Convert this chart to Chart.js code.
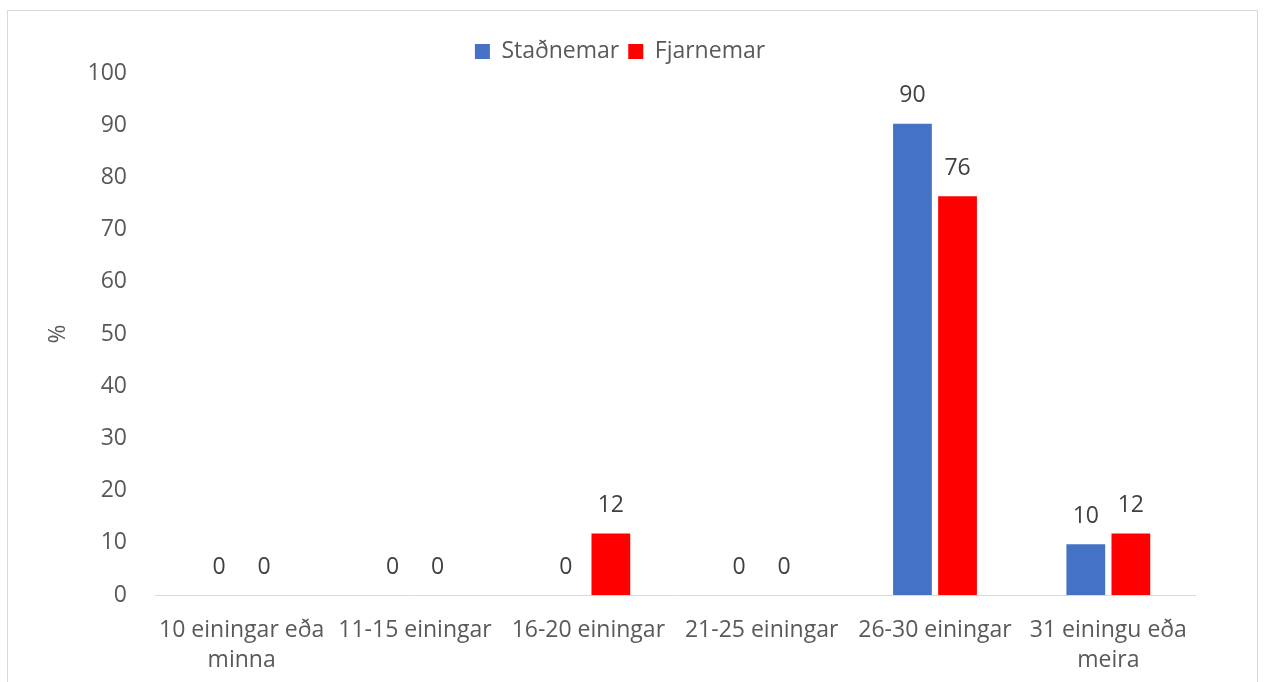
<!DOCTYPE html>
<html>
<head>
<meta charset="utf-8">
<script src="https://cdn.jsdelivr.net/npm/chart.js@4"></script>
<style>
  html, body { margin: 0; padding: 0; background: #fff; }
  #wrap { width: 1264px; height: 682px; position: relative; }
</style>
</head>
<body>
<div id="wrap"><canvas id="chart" width="1264" height="682"></canvas></div>
<script>
const flokkar = [["10 einingar eða", "minna"], "11-15 einingar", "16-20 einingar", "21-25 einingar", "26-30 einingar", ["31 einingu eða", "meira"]];
const stadnemar = [0, 0, 0, 0, 90.3, 9.7];
const fjarnemar = [0, 0, 11.8, 0, 76.4, 11.8];
const yTicks = [0, 10, 20, 30, 40, 50, 60, 70, 80, 90, 100];

const FONT = "'Open Sans', 'Noto Sans', sans-serif";

// ramminn utan um myndina
const rammi = {
  id: "rammi",
  beforeDraw(chart) {
    const c = chart.ctx;
    c.save();
    c.fillStyle = "#fff";
    c.fillRect(0, 0, chart.width, chart.height);
    c.strokeStyle = "#d9d9d9";
    c.lineWidth = 1;
    c.strokeRect(7.5, 10.5, 1250, 700);
    c.restore();
  }
};

// gildi fyrir ofan súlurnar
const gildi = {
  id: "gildi",
  afterDatasetsDraw(chart) {
    const c = chart.ctx;
    c.save();
    c.font = "23px " + FONT;
    c.fillStyle = "#404040";
    c.textAlign = "center";
    c.textBaseline = "middle";
    chart.data.datasets.forEach((ds, i) => {
      chart.getDatasetMeta(i).data.forEach((bar, j) => {
        c.fillText(Math.round(ds.data[j]), bar.x, bar.y - 28);
      });
    });
    c.restore();
  }
};

new Chart(document.getElementById("chart").getContext("2d"), {
  type: "bar",
  data: {
    labels: flokkar,
    datasets: [
      { label: "Staðnemar", data: stadnemar, backgroundColor: "#4472C4" },
      { label: "Fjarnemar", data: fjarnemar, backgroundColor: "#FF0000" }
    ]
  },
  options: {
    responsive: false,
    animation: false,
    categoryPercentage: 0.52,
    barPercentage: 0.86,
    layout: { padding: { left: 45, right: 69, top: 31, bottom: 4 } },
    plugins: {
      legend: {
        labels: {
          font: { family: FONT, size: 23 },
          color: "#595959",
          boxWidth: 15,
          boxHeight: 15,
          padding: 9
        }
      },
      tooltip: { enabled: false }
    },
    scales: {
      x: {
        afterFit(axis) { axis.height = 83; },
        grid: { display: false, drawTicks: false },
        border: { color: "#d9d9d9", width: 1 },
        ticks: {
          color: "#595959",
          font: { family: FONT, size: 23, lineHeight: 1.3 },
          padding: 21,
          maxRotation: 0,
          autoSkip: false
        }
      },
      y: {
        min: 0,
        max: 100,
        afterBuildTicks(axis) { axis.ticks = yTicks.map(v => ({ value: v })); },
        afterFit(axis) { axis.width = 110; },
        grid: { display: false, drawTicks: false },
        border: { display: false },
        title: {
          display: true,
          text: "%",
          color: "#595959",
          font: { family: FONT, size: 23 },
          padding: 0
        },
        ticks: {
          color: "#595959",
          font: { family: FONT, size: 23 },
          padding: 28
        }
      }
    }
  },
  plugins: [rammi, gildi]
});
</script>
</body>
</html>
